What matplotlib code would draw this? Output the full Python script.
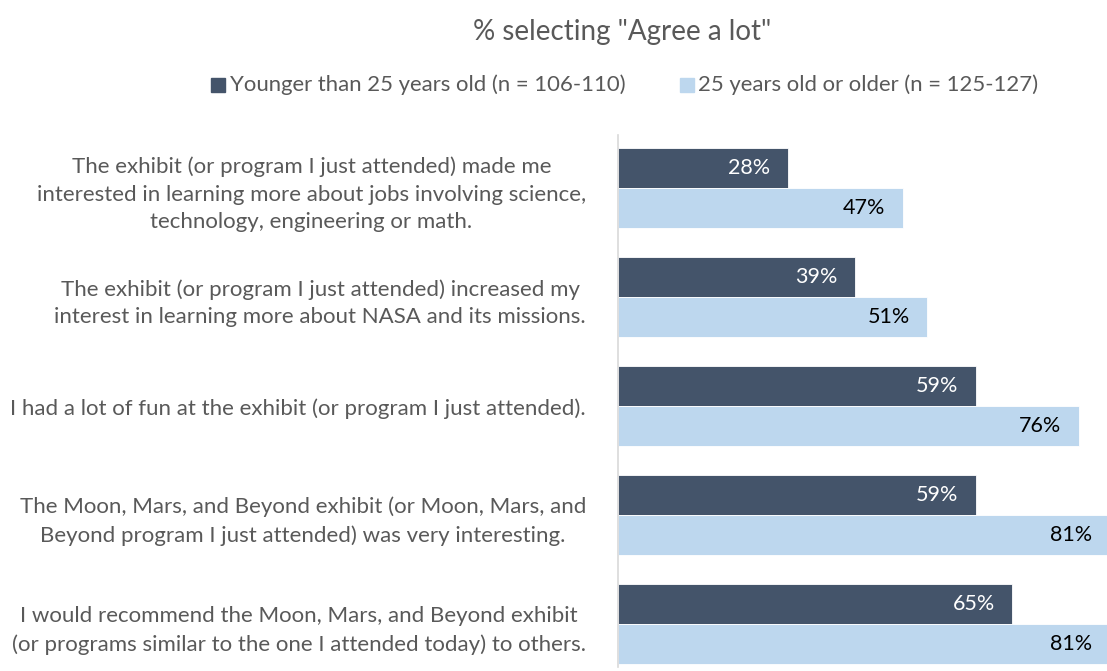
import matplotlib.pyplot as plt
import numpy as np

plt.rcParams['font.family'] = ['Lato', 'DejaVu Sans']

statements = [
    "The exhibit (or program I just attended) made me\ninterested in learning more about jobs involving science,\ntechnology, engineering or math.",
    "The exhibit (or program I just attended) increased my\ninterest in learning more about NASA and its missions.",
    "I had a lot of fun at the exhibit (or program I just attended).",
    "The Moon, Mars, and Beyond exhibit (or Moon, Mars, and\nBeyond program I just attended) was very interesting.",
    "I would recommend the Moon, Mars, and Beyond exhibit\n(or programs similar to the one I attended today) to others.",
]
younger = [28, 39, 59, 59, 65]
older = [47, 51, 76, 81, 81]
series_names = ["Younger than 25 years old (n = 106-110)",
                "25 years old or older (n = 125-127)"]

dark = '#44546A'
light = '#BDD7EE'
grey = '#595959'

fig = plt.figure(figsize=(11.07, 6.71), dpi=100)
ax = fig.add_axes([0.5583, 0.006, 0.4417, 0.7928])

y = np.arange(len(statements))
h = 0.367
b1 = ax.barh(y - h / 2, younger, height=h, color=dark, edgecolor='white', linewidth=0.6)
b2 = ax.barh(y + h / 2, older, height=h, color=light, edgecolor='white', linewidth=0.6)

for bars, vals, col in [(b1, younger, 'white'), (b2, older, 'black')]:
    for bar, v in zip(bars, vals):
        ax.text(v - 2.9, bar.get_y() + bar.get_height() / 2, f"{v}%",
                ha='right', va='center', color=col, fontsize=15.5)

ax.set_xlim(0, 80.6)
ax.set_ylim(4.39, -0.49)
ax.set_xticks([])
ax.set_yticks(y)
ax.set_yticklabels(statements, fontsize=16, color=grey, linespacing=1.48)
ax.tick_params(axis='y', length=0, pad=23)
for lbl in ax.get_yticklabels():
    lbl.set_horizontalalignment('right')
    lbl.set_multialignment('center')
for s in ['top', 'right', 'bottom']:
    ax.spines[s].set_visible(False)
ax.spines['left'].set_color('#D9D9D9')
ax.spines['left'].set_linewidth(1.2)

fig.text(0.562, 0.952, '% selecting "Agree a lot"', ha='center', va='center',
         fontsize=20, color=grey)

# legend
fig.patches.append(plt.Rectangle((211 / 1107, 1 - 92 / 671), 14 / 1107, 14 / 671,
                                 transform=fig.transFigure, color=dark))
fig.text(230 / 1107, 1 - 85 / 671, series_names[0], ha='left', va='center',
         fontsize=15.9, color=grey)
fig.patches.append(plt.Rectangle((680 / 1107, 1 - 92 / 671), 14 / 1107, 14 / 671,
                                 transform=fig.transFigure, color=light))
fig.text(698 / 1107, 1 - 85 / 671, series_names[1], ha='left', va='center',
         fontsize=15.9, color=grey)

fig.savefig('out.png', dpi=100)
